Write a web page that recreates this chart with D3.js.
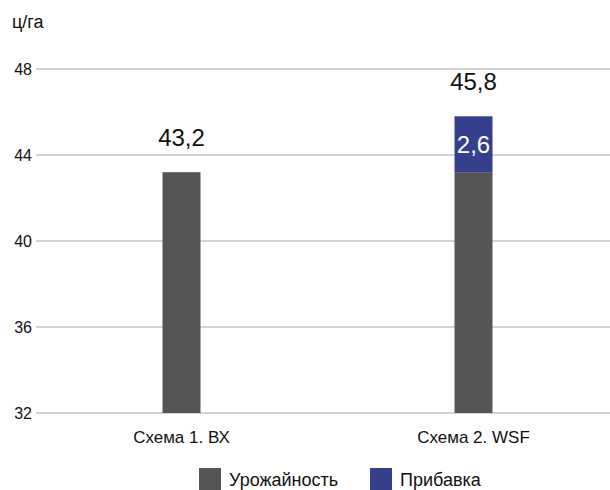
<!DOCTYPE html>
<html><head><meta charset="utf-8">
<script src="https://cdn.jsdelivr.net/npm/d3@7"></script>
<style>body{margin:0;background:#fff}svg{display:block}text{font-family:"Liberation Sans",Arial,sans-serif}</style>
</head><body>
<svg id="c" width="610" height="490"></svg>
<script>
const categories = ["Схема 1. ВХ", "Схема 2. WSF"];
const yieldValues = [43.2, 43.2];
const bonusValues = [0, 2.6];
const totalLabels = ["43,2", "45,8"];
const bonusLabels = ["", "2,6"];
const yTicks = [32, 36, 40, 44, 48];
const seriesNames = ["Урожайность", "Прибавка"];
const colors = ["#555555", "#353f8c"];

const svg = d3.select("#c");
const y = d3.scaleLinear().domain([32, 48]).range([413, 69]);
const x = d3.scaleBand().domain(categories).range([35.5, 619.5]).paddingInner(0.87).paddingOuter(0.435);

svg.append("g").selectAll("line").data(yTicks).join("line")
  .attr("x1", 36).attr("x2", 610).attr("y1", d => y(d)).attr("y2", d => y(d))
  .attr("stroke", "#c4c4c4").attr("stroke-width", 1.5);
svg.append("g").selectAll("text").data(yTicks).join("text")
  .attr("x", 32).attr("y", d => y(d)).attr("dy", "0.35em").attr("text-anchor", "end")
  .attr("font-size", 16).attr("fill", "#111").text(d => d);

svg.append("text").attr("x", 12).attr("y", 28).attr("font-size", 18).attr("fill", "#111").text("ц/га");

const bw = 38;
const cx = d => x(d) + x.bandwidth() / 2;
svg.append("g").selectAll("rect").data(categories).join("rect")
  .attr("x", d => cx(d) - bw / 2).attr("width", bw)
  .attr("y", (d, i) => y(yieldValues[i])).attr("height", (d, i) => y(32) - y(yieldValues[i]))
  .attr("fill", colors[0]);
svg.append("g").selectAll("rect").data(categories).join("rect")
  .attr("x", d => cx(d) - bw / 2).attr("width", bw)
  .attr("y", (d, i) => y(yieldValues[i] + bonusValues[i]))
  .attr("height", (d, i) => y(yieldValues[i]) - y(yieldValues[i] + bonusValues[i]))
  .attr("fill", colors[1]);
svg.append("g").selectAll("text").data(categories).join("text")
  .attr("x", d => cx(d)).attr("y", (d, i) => y(yieldValues[i] + bonusValues[i]) - 26)
  .attr("text-anchor", "middle").attr("font-size", 24).attr("fill", "#111")
  .text((d, i) => totalLabels[i]);
svg.append("g").selectAll("text").data(categories).join("text")
  .attr("x", d => cx(d)).attr("y", (d, i) => (y(yieldValues[i]) + y(yieldValues[i] + bonusValues[i])) / 2)
  .attr("dy", "0.36em").attr("text-anchor", "middle").attr("font-size", 24).attr("fill", "#fff")
  .text((d, i) => bonusLabels[i]);
svg.append("g").selectAll("text").data(categories).join("text")
  .attr("x", d => cx(d)).attr("y", 443).attr("text-anchor", "middle").attr("font-size", 17).attr("fill", "#111")
  .text(d => d);
const lx = [199, 370];
const lg = svg.append("g").selectAll("g").data(seriesNames).join("g")
  .attr("transform", (d, i) => `translate(${lx[i]},468)`);
lg.append("rect").attr("width", 22).attr("height", 22).attr("fill", (d, i) => colors[i]);
lg.append("text").attr("x", 30).attr("y", 12).attr("dy", "0.35em").attr("font-size", 18).attr("fill", "#111").text(d => d);
</script>
</body></html>
